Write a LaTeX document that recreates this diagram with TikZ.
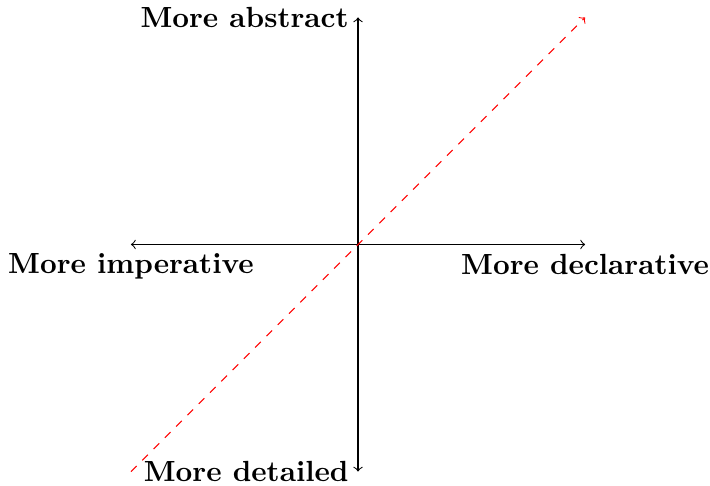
\documentclass[tikz,border=0pt]{standalone}
\begin{document}
\begin{tikzpicture}[lbl/.style={font=\fontsize{10.95}{13}\selectfont\bfseries}]
\useasboundingbox (-4.73,-3.19) rectangle (4.65,3.23);
\coordinate (L) at (-3,0);
\coordinate (R) at (3,0);
\coordinate (T) at (0,3);
\coordinate (B) at (0,-3);
\coordinate (DL) at (-3,-3);
\coordinate (UR) at (3,3);
\draw[<->] (L) -- (R);
\draw[<->] (B) -- (T);
\draw[->,red,dashed] (DL) -- (UR);
\node[lbl,anchor=east] (abs) at (T) {More abstract};
\node[lbl,anchor=east] (det) at (B) {More detailed};
\node[lbl,anchor=north] (imp) at (L) {More imperative};
\node[lbl,anchor=north] (dec) at (R) {More declarative};
\end{tikzpicture}
\end{document}
